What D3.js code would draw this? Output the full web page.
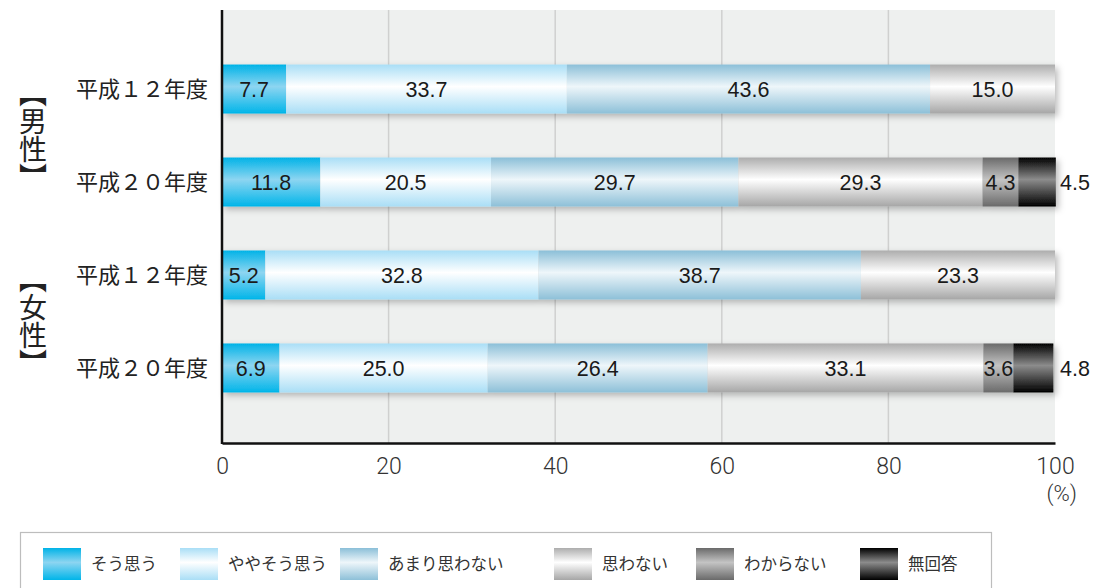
<!DOCTYPE html>
<html>
<head>
<meta charset="utf-8">
<script src="https://cdn.jsdelivr.net/npm/d3@7"></script>
<style>
  body { margin: 0; background: #fff; }
  svg { display: block; }
</style>
</head>
<body>
<svg id="chart" width="1106" height="588"></svg>
<script>
// data
const categories = ["男性 平成12年度", "男性 平成20年度", "女性 平成12年度", "女性 平成20年度"];
const rowLabels = ["平成12年度", "平成20年度", "平成12年度", "平成20年度"];
const groups = ["男性", "女性"];
const seriesNames = ["そう思う", "ややそう思う", "あまり思わない", "思わない", "わからない", "無回答"];
const souOmou = [7.7, 11.8, 5.2, 6.9];
const yayaSouOmou = [33.7, 20.5, 32.8, 25.0];
const amariOmowanai = [43.6, 29.7, 38.7, 26.4];
const omowanai = [15.0, 29.3, 23.3, 33.1];
const wakaranai = [0, 4.3, 0, 3.6];
const mukaitou = [0, 4.5, 0, 4.8];
const xTicks = [0, 20, 40, 60, 80, 100];

const series = [souOmou, yayaSouOmou, amariOmowanai, omowanai, wakaranai, mukaitou];

// gradient stops per series (top, middle, bottom)
const grads = [
  ["#00b3e7", "#8dd5f1", "#00b5e9"],
  ["#a9def6", "#ffffff", "#a9def6"],
  ["#8bbfd8", "#eef6fa", "#8dc0d8"],
  ["#adadad", "#ffffff", "#a6a6a6"],
  ["#6a6a6a", "#c4c4c4", "#6a6a6a"],
  ["#000000", "#8c8c8c", "#000000"]
];

const svg = d3.select("#chart");
const defs = svg.append("defs");

grads.forEach((g, i) => {
  const lg = defs.append("linearGradient")
    .attr("id", "g" + i)
    .attr("x1", 0).attr("y1", 0).attr("x2", 0).attr("y2", 1);
  lg.append("stop").attr("offset", "0%").attr("stop-color", g[0]);
  lg.append("stop").attr("offset", "45%").attr("stop-color", g[1]);
  lg.append("stop").attr("offset", "100%").attr("stop-color", g[2]);
});

const shadow = defs.append("filter").attr("id", "shadow")
  .attr("x", "-5%").attr("y", "-20%").attr("width", "110%").attr("height", "150%");
shadow.append("feDropShadow")
  .attr("dx", 3).attr("dy", 3).attr("stdDeviation", 3)
  .attr("flood-color", "#000").attr("flood-opacity", 0.25);

const PLOT = { left: 222, right: 1055, top: 10, bottom: 443 };

const x = d3.scaleLinear().domain([0, 100]).range([PLOT.left, PLOT.right]);
const y = d3.scaleBand()
  .domain(categories)
  .range([42.5, 414.5])
  .paddingInner(0.473)
  .paddingOuter(0.237);

// plot background
svg.append("rect")
  .attr("x", PLOT.left).attr("y", PLOT.top)
  .attr("width", PLOT.right - PLOT.left)
  .attr("height", PLOT.bottom - PLOT.top)
  .attr("fill", "#eef0ef");

// gridlines
svg.append("g")
  .selectAll("line")
  .data(xTicks.filter(d => d > 0 && d < 100))
  .join("line")
  .attr("x1", d => x(d)).attr("x2", d => x(d))
  .attr("y1", PLOT.top).attr("y2", PLOT.bottom)
  .attr("stroke", "#cfd0cf")
  .attr("stroke-width", 1.5);

// stacked bars
const rows = categories.map((c, i) => {
  let acc = 0;
  return series.map((s, k) => {
    const seg = { cat: c, k: k, v: s[i], x0: acc, x1: acc + s[i] };
    acc += s[i];
    return seg;
  }).filter(d => d.v > 0);
});

const barG = svg.append("g");
rows.forEach((segs, i) => {
  const g = barG.append("g").attr("filter", "url(#shadow)");
  g.selectAll("rect")
    .data(segs)
    .join("rect")
    .attr("x", d => x(d.x0))
    .attr("y", d => y(d.cat))
    .attr("width", d => x(d.x1) - x(d.x0))
    .attr("height", y.bandwidth())
    .attr("fill", d => "url(#g" + d.k + ")");
});

// value labels
const labelFont = "'Liberation Sans', Arial, sans-serif";
rows.forEach((segs) => {
  barG.append("g").selectAll("text")
    .data(segs)
    .join("text")
    .attr("x", d => d.k === 5 ? x(100) + 20 : (x(d.x0) + x(d.x1)) / 2)
    .attr("y", d => y(d.cat) + y.bandwidth() / 2)
    .attr("dy", "0.36em")
    .attr("text-anchor", "middle")
    .attr("font-family", labelFont)
    .attr("font-size", 21.5)
    .attr("fill", "#1a1a1a")
    .text(d => d.v.toFixed(1));
});

// axes lines
svg.append("line")
  .attr("x1", PLOT.left).attr("x2", PLOT.left)
  .attr("y1", PLOT.top).attr("y2", PLOT.bottom + 1)
  .attr("stroke", "#111").attr("stroke-width", 2.5);
const tickFont = "Roboto, 'Liberation Sans', sans-serif";
const xAxis = svg.append("g")
  .attr("transform", "translate(0," + PLOT.bottom + ")")
  .call(d3.axisBottom(x).tickValues(xTicks).tickSize(0).tickPadding(15));
xAxis.select(".domain").attr("stroke", "#111").attr("stroke-width", 2.5);
xAxis.selectAll("text")
  .attr("font-family", tickFont)
  .attr("font-weight", 300)
  .attr("font-size", 23)
  .attr("fill", "#333");
svg.append("text")
  .attr("x", x(100) + 22).attr("y", 493)
  .attr("dy", "0.35em")
  .attr("text-anchor", "end")
  .attr("font-family", tickFont)
  .attr("font-weight", 300)
  .attr("font-size", 22)
  .attr("fill", "#333")
  .text("(%)");

// row labels
const jpFont = "'Noto Sans CJK JP', sans-serif";
svg.append("g").selectAll("text")
  .data(categories)
  .join("text")
  .attr("x", 208)
  .attr("y", d => y(d) + y.bandwidth() / 2)
  .attr("dy", "0.35em")
  .attr("text-anchor", "end")
  .attr("font-family", jpFont)
  .attr("font-size", 22)
  .style("font-variant-east-asian", "full-width")
  .attr("fill", "#222")
  .text((d, i) => rowLabels[i]);

// group labels (vertical)
groups.forEach((gname, gi) => {
  const c0 = y(categories[gi * 2]) + y.bandwidth() / 2;
  const c1 = y(categories[gi * 2 + 1]) + y.bandwidth() / 2;
  svg.append("text")
    .attr("x", 33)
    .attr("y", (c0 + c1) / 2)
    .attr("text-anchor", "middle")
    .style("writing-mode", "vertical-rl")
    .attr("font-family", jpFont)
    .attr("font-size", 28)
    .attr("fill", "#222")
    .text("【" + gname + "】");
});

// legend
svg.append("rect")
  .attr("x", 20.5).attr("y", 532.5)
  .attr("width", 971).attr("height", 70)
  .attr("fill", "#fff")
  .attr("stroke", "#bdbdbd").attr("stroke-width", 1.2);

const legendX = [43, 180, 340, 554, 696, 860];
const leg = svg.append("g").selectAll("g")
  .data(seriesNames)
  .join("g")
  .attr("transform", (d, i) => "translate(" + legendX[i] + ",548)");
leg.append("rect")
  .attr("width", 38).attr("height", 32)
  .attr("fill", (d, i) => "url(#g" + i + ")");
leg.append("text")
  .attr("x", 48).attr("y", 16)
  .attr("dy", "0.35em")
  .attr("font-family", jpFont)
  .attr("font-size", 16.5)
  .attr("fill", "#333")
  .text(d => d);
</script>
</body>
</html>
